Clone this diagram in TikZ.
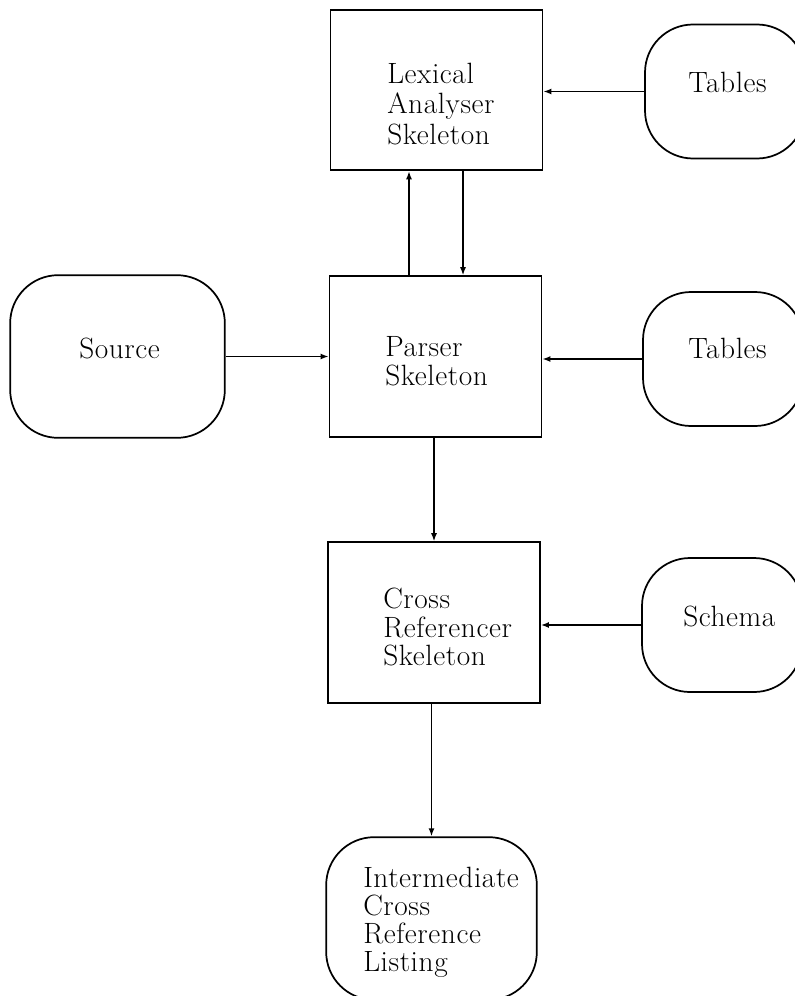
\documentclass[tikz,border=0pt]{standalone}
\usepackage{fontspec}
\setmainfont{Latin Modern Roman}[LetterSpace=2]
\usetikzlibrary{arrows.meta,calc}
\begin{document}
\begin{tikzpicture}[x=0.75pt,y=-0.75pt,
  box/.style={draw,line width=1.4pt,minimum width=159pt,minimum height=120.5pt,inner sep=0pt},
  store/.style={draw,line width=1.3pt,rounded corners=36pt,minimum width=120pt,minimum height=100.5pt,inner sep=0pt},
  lbl/.style={anchor=base west,inner sep=0pt,font=\fontsize{22}{21.5}\selectfont},
  mlbl/.style={anchor=north west,align=left,inner sep=0pt,font=\fontsize{22}{21.5}\selectfont},
  arr/.style={line width=1.1pt,-{Latex[length=6pt,width=4.5pt]}}]
\useasboundingbox (0,0) rectangle (795,996);
\clip (0,0) rectangle (795,996);
% boxes
\node[box] (lex) at (436.5,90) {};
\node[box] (par) at (435.5,356.5) {};
\node[box] (crs) at (434,622.5) {};
% stores
\node[store,minimum width=161pt,minimum height=122pt] (src) at (117.5,356.5) {};
\node[store] (tb1) at (725,91.5) {};
\node[store] (tb2) at (723,359) {};
\node[store] (sch) at (722,625) {};
\node[store,minimum width=158pt,minimum height=122pt] (int) at (431.5,918.5) {};
% texts
\node[mlbl,font=\fontsize{22}{23}\selectfont] (lext) at (387,62.6) {Lexical\\Analyser\\Skeleton};
\node[mlbl] (part) at (385,336.6) {Parser\\Skeleton};
\node[mlbl] (crst) at (383,587.6) {Cross\\Referencer\\Skeleton};
\node[lbl] (srct) at (79,358) {Source};
\node[lbl] (tb1t) at (688,92) {Tables};
\node[lbl] (tb2t) at (688,358) {Tables};
\node[lbl] (scht) at (683,626) {Schema};
\node[mlbl,font=\fontsize{22}{21}\selectfont] (intt) at (363,866.6) {Intermediate\\Cross\\Reference\\Listing};
% connectors
\draw[arr] (tb1.west) -- (tb1.west -| lex.east);
\coordinate (dn) at ($(lex.south)+(26.5,0)$);
\draw[arr] (dn) -- (dn |- par.north);
\coordinate (up) at ($(par.north)+(-26.5,0)$);
\draw[arr] (up) -- (up |- lex.south);
\draw[arr] (src.east) -- (src.east -| par.west);
\draw[arr] (tb2.west) -- (tb2.west -| par.east);
\draw[arr] (crs.north |- par.south) -- (crs.north);
\draw[arr] (sch.west) -- (sch.west -| crs.east);
\draw[arr] (int.north |- crs.south) -- (int.north);
\end{tikzpicture}
\end{document}
